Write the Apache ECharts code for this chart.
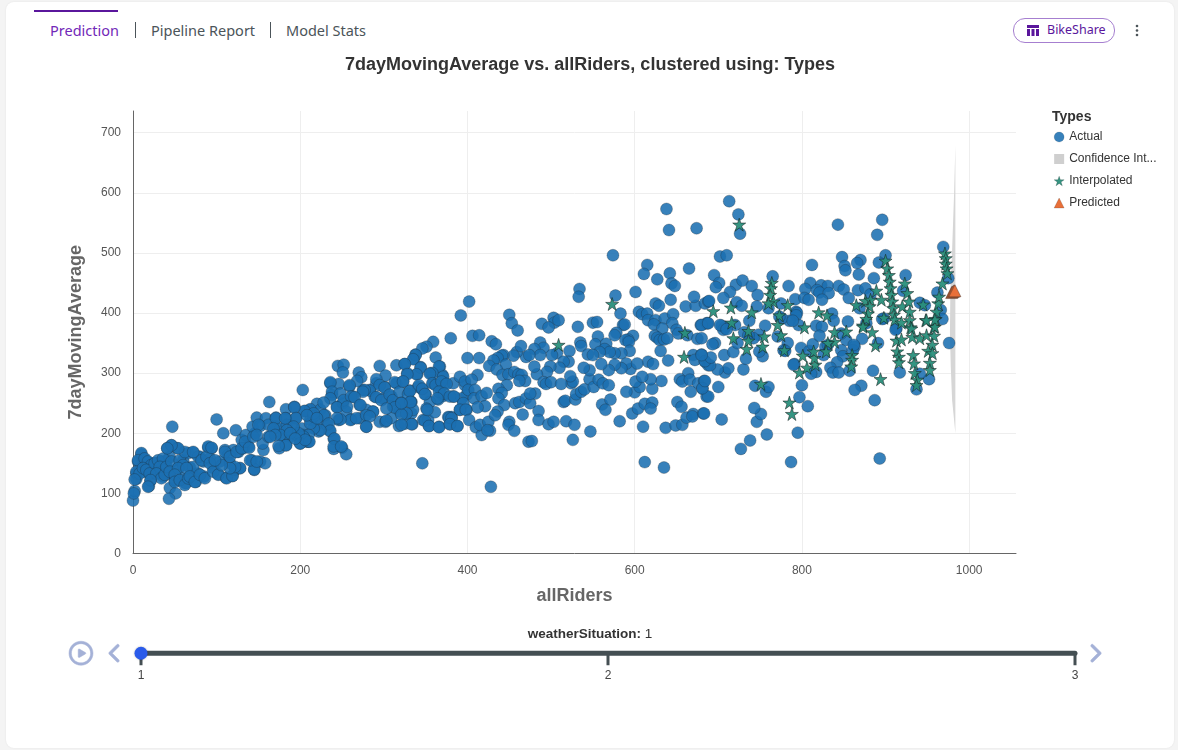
<!DOCTYPE html>
<html>
<head>
<meta charset="utf-8">
<script src="https://cdn.jsdelivr.net/npm/echarts@6/dist/echarts.min.js"></script>
<style>
  html, body { margin: 0; padding: 0; background: #f4f4f4; }
  body { width: 1178px; height: 750px; overflow: hidden; position: relative; font-family: "Noto Sans", sans-serif; }
  .card { position: absolute; left: 6px; top: 2px; width: 1168px; height: 746px; background: #fff; border-radius: 8px; box-shadow: 0 0 2px rgba(0,0,0,.08); }
  .tabline { position: absolute; left: 34px; top: 10px; width: 84px; height: 2px; background: #5a169c; }
  .tab { position: absolute; top: 20px; font-size: 14.5px; line-height: 21px; color: #4b5459; white-space: nowrap; }
  .tab.active { color: #7228b8; }
  .sep { position: absolute; top: 22px; width: 1px; height: 16px; background: #4b5459; }
  .pill { position: absolute; left: 1013px; top: 18px; width: 100px; height: 23px; border: 1px solid #a67fd0; border-radius: 12px; }
  .pill span { position: absolute; left: 33px; top: 2px; font-size: 12.5px; line-height: 18px; color: #5a169c; }
  .pill svg { position: absolute; left: 13px; top: 6px; }
  .kebab { position: absolute; left: 1135px; top: 24px; }
  #chart { position: absolute; left: 0; top: 0; width: 1178px; height: 750px; }
</style>
</head>
<body>
<div class="card"></div>
<div class="tabline"></div>
<div class="tab active" style="left:50px">Prediction</div>
<div class="sep" style="left:135px"></div>
<div class="tab" style="left:151px">Pipeline Report</div>
<div class="sep" style="left:270px"></div>
<div class="tab" style="left:286px">Model Stats</div>
<div class="pill">
  <svg width="12" height="11" viewBox="0 0 12 11"><path fill="#5a169c" d="M0 0h12v3H0zM0 4h3v7H0zM4.5 4h3v7h-3zM9 4h3v7H9z"/></svg>
  <span>BikeShare</span>
</div>
<svg class="kebab" width="4" height="13" viewBox="0 0 4 13"><g fill="#4b5459"><circle cx="2" cy="2" r="1.3"/><circle cx="2" cy="6.5" r="1.3"/><circle cx="2" cy="11" r="1.3"/></g></svg>
<div id="chart"></div>
<script>
// [allRiders, 7dayMovingAverage]
var actualLow = [[0,88],[2,104],[1,100],[4,124],[4,133],[8,138],[6,153],[10,165],[12,158],[16,153],[9,142],[13,136],[20,150],[18,142],[24,133],[21,121],[19,112],[28,150],[32,139],[36,128],[34,153],[40,155],[38,139],[44,133],[46,180],[41,175],[53,175],[47,211],[44,160],[44,109],[51,100],[43,91],[50,122],[54,142],[60,155],[58,125],[63,117],[66,167],[72,168],[68,143],[72,131],[75,119],[80,161],[85,128],[78,133],[84,153],[90,176],[94,175],[92,158],[96,142],[102,132],[111,126],[119,129],[122,139],[128,142],[100,223],[108,200],[123,205],[104,153],[110,172],[114,164],[120,172],[116,150],[126,169],[130,189],[135,197],[138,178],[132,175],[142,155],[152,153],[158,150],[145,139],[156,172],[155,183],[146,200],[143,211],[148,226],[159,225],[171,226],[163,252],[183,240],[193,244],[195,226],[183,225],[152,212],[162,214],[162,194],[170,211],[176,208],[184,214],[192,208],[180,194],[188,194],[196,197],[175,175],[183,180],
  [10,167],[6,155],[14,158],[18,153],[22,147],[4,136],[8,133],[12,142],[16,139],[20,133],[26,150],[30,155],[36,158],[32,144],[28,133],[34,125],[38,131],[40,144],[46,153],[44,136],[2,123],[21,122],[18,111],[56,155],[60,147],[54,142],[50,131],[50,119],[56,122],[62,114],[66,125],[72,144],[64,142],[68,128],[74,119],[80,131],[86,125],[78,161],[82,155],[88,161],[92,150],[96,136],[102,131],[112,125],[119,129],[128,142],[122,144],[116,142],[106,147],[98,155],[110,169],[116,161],[124,169],[130,175],[134,186],[139,176],[144,194],[150,214],[148,197],[145,140],[140,155],[148,153],[62,169],[72,169],[90,178],[94,176],[54,175],[46,180],[41,175]];
var actualMid = [[202,208],[204,197],[208,186],[210,186],[200,183],[203,272],[206,237],[212,239],[220,249],[224,239],[212,222],[220,216],[222,203],[230,230],[235,204],[232,214],[240,191],[240,174],[250,176],[255,165],[246,222],[244,244],[238,264],[236,283],[246,282],[259,278],[263,261],[251,250],[255,236],[261,223],[271,225],[279,211],[287,236],[279,239],[271,247],[275,272],[283,272],[291,283],[301,277],[289,261],[299,258],[309,261],[322,250],[311,244],[331,271],[341,277],[319,236],[327,233],[333,252],[333,233],[315,283],[323,286],[295,219],[302,219],[309,225],[318,212],[325,216],[334,215],
  [338,331],[336,324],[362,326],[367,311],[295,312],[315,313],[325,315],[245,312],[252,314],[251,301],[270,301],[273,293],[268,287],[302,296],[291,290],[236,285],[259,280],[313,285],[328,300],[340,298],[344,310],[356,300],[370,297],[295,280],[301,276],[283,271],[277,272],[275,269],[238,269],[248,266],[236,258],[252,255],[261,261],[265,260],[291,260],[297,255],[307,264],[311,255],[321,251],[332,253],[319,269],[329,265],[346,273],[350,265],[359,283],[367,275],[373,283],[383,283],[397,280],[399,264],[393,258],[383,261],[371,262],[365,256],[355,252],[244,243],[228,251],[212,240],[205,237],[193,243],[195,225],[171,225],[182,225],[228,230],[260,222],[267,225],[287,236],[279,230],[272,247],[256,244],[313,243],[303,241],[283,228],[279,211],[303,221],[347,222],[353,222],[354,212],[366,211],[381,227],[379,215],[388,212],[377,227],[399,239],[391,239],[248,223],[244,225],[234,216],[236,204],[241,191],[240,178],[249,178],[224,205],[216,208],[212,216],[210,197],[204,194],[198,200],[192,211],[184,205],[176,197],[183,180],[174,179],[188,200],[168,208],[200,183],[211,186],[206,189],[194,191],[170,197],[164,194],[216,228],[216,233],[208,230],[220,225],
  [402,419],[392,396],[380,358],[359,352],[351,344],[346,341],[338,330],[335,323],[406,362],[414,363],[400,325],[414,325],[366,311],[344,309],[325,315],[339,298],[328,298],[358,300],[355,299],[391,294],[412,297],[371,294],[323,286],[331,270],[342,280],[346,274],[349,265],[358,283],[362,280],[369,286],[375,282],[366,269],[372,266],[364,258],[379,261],[384,261],[397,286],[405,289],[401,272],[409,272],[408,258],[417,262],[423,267],[421,245],[412,243],[395,250],[391,239],[398,239],[361,235],[351,241],[335,239],[327,233],[321,231],[332,252],[321,250],[349,221],[354,212],[366,210],[333,215],[321,214],[378,226],[381,225],[379,215],[388,212],[402,222],[410,210],[417,197],[415,214],[425,219],[427,204],[424,205],[352,239],[346,150],[428,111]];
var actualUpper = [[638,573],[641,538],[674,541],[574,496],[615,480],[611,465],[642,466],[665,474],[627,456],[534,440],[533,427],[577,429],[601,435],[644,449],[648,445],[643,422],[625,416],[629,412],[661,411],[673,412],[671,427],[684,416],[688,419],[450,397],[453,383],[460,371],[489,382],[503,392],[504,384],[509,388],[497,376],[532,377],[550,384],[555,385],[583,399],[605,402],[609,398],[615,399],[616,388],[625,388],[623,381],[636,391],[646,398],[645,383],[633,374],[650,372],[652,366],[663,363],[679,380],[687,383],[586,380],[588,381],[578,367],[576,363],[556,361],[598,362],[592,356],[589,355],[593,352],[624,362],[627,359],[630,355],[635,356],[639,358],[675,357],[429,353],[434,348],[487,351],[491,342],[480,340],[535,351],[536,345],[553,348],[566,349],[564,340],[594,337],[584,333],[576,333],[570,335],[558,335],[544,331],[550,330],[522,337],[507,333],[501,330],[487,330],[470,327],[474,330],[459,335],[464,345],[455,329],[443,330],[441,329],[436,325],[431,321],[426,312],
  [446,314],[435,306],[442,297],[449,298],[456,302],[461,298],[465,297],[469,287],[462,287],[447,280],[437,274],[441,267],[437,258],[444,247],[436,236],[433,230],[457,250],[462,252],[470,258],[475,250],[481,266],[475,266],[485,237],[485,222],[466,231],[450,219],[449,214],[456,204],[473,186],[477,187],[497,215],[503,219],[518,220],[528,214],[526,189],[547,203],[515,252],[517,254],[529,256],[530,265],[536,269],[540,273],[546,290],[551,277],[557,289],[562,283],[569,280],[561,248],[571,256],[565,239],[582,220],[597,233],[604,241],[612,249],[621,251],[619,241],[610,211],[612,152],[635,143],[637,209],[649,213],[657,214],[662,226],[670,232],[669,228],[682,233],[651,252],[656,244],[632,287],[621,274],[619,290],[600,268],[590,269],[606,277],[601,286],[609,294],[595,307],[590,316],[584,308],[576,314],[569,305],[560,315],[546,305],[539,309],[524,283],[526,286],[523,295],[521,319],[515,319],[510,309],[499,311],[495,302],[483,298],[480,311],[491,285],[494,282],[500,285],[512,282],[616,319],[622,315],[603,316],[640,321],[631,337],[670,330],[680,331],[672,322],[684,319],[688,313],[664,300],[654,290],[657,286],[666,289],[676,283],[683,287],[681,274],[667,269],[686,261]];
var actualHigh = [[713,586],[724,564],[726,532],[702,494],[710,496],[695,463],[701,450],[697,443],[721,447],[729,454],[740,445],[747,430],[714,435],[706,425],[689,420],[722,418],[728,412],[746,411],[760,408],[765,461],[775,416],[792,423],[784,445],[812,480],[843,547],[896,555],[890,530],[848,493],[870,488],[866,483],[851,478],[852,471],[900,496],[892,484],[868,464],[886,458],[810,450],[804,440],[823,446],[831,445],[844,445],[818,438],[821,434],[832,433],[850,439],[867,438],[876,441],[882,431],[856,425],[803,425],[808,422],[824,422],[924,463],[921,437],[969,510],[975,458],[962,434],[941,417],[947,413],[966,405],[968,390],[793,402],[794,400],[793,396],[756,379],[737,387],[720,380],[704,379],[686,383],[680,380],[708,376],[836,399],[838,387],[855,386],[817,379],[824,377],[796,380],[785,387],[776,391],[869,408],[877,383],[898,391],[896,390],[913,374],
  [976,350],[917,301],[937,273],[952,290],[941,299],[912,372],[891,350],[872,357],[853,355],[863,344],[847,366],[847,338],[849,328],[861,338],[828,344],[826,330],[831,347],[842,318],[834,309],[837,301],[844,301],[857,304],[817,302],[811,299],[885,304],[800,280],[797,260],[807,245],[795,201],[787,152],[893,158],[887,255],[871,279],[863,272],[758,198],[738,188],[727,174],[746,219],[751,232],[743,242],[744,279],[757,269],[760,277],[704,223],[683,233],[700,277],[688,261],[681,275],[684,287],[730,306],[708,301],[712,308],[699,306],[690,313],[684,320],[691,326],[680,330],[707,330],[718,335],[733,324],[753,328],[749,336],[791,315],[790,314],[799,342],[809,337],[813,348],[783,350],[778,338],[780,337],[771,361],[748,364],[742,358],[731,368],[736,363],[723,350],[696,350],[693,348],[680,358],[706,372],[702,380],[710,373],[688,383],[821,362],[789,387],[862,347],[773,394]];
var interpolatedUpper = [[509,347],[573,415],[660,367],[659,327],[725,547],[764,450],[763,441],[762,430],[766,419],[760,416],[773,396],[783,413],[740,401],[715,409],[694,403],[716,384],[820,401],[830,396],[865,413],[889,437],[895,422],[876,420],[882,422],[881,411],[879,399],[877,390],[873,379],[900,487],[902,474],[904,463],[905,452],[906,441],[907,430],[908,419],[909,408],[910,397],[911,389],[920,411],[919,384],[923,449],[926,433],[928,419],[929,402],[929,388],[930,376],[945,414],[948,388],[958,377],[960,390],[961,402],[963,416],[964,427],[971,499],[972,491],[972,482],[973,474],[974,466],[968,449],[898,392]];
var interpolatedLower = [[894,290],[785,251],[788,232],[751,282],[797,301],[806,309],[816,314],[815,325],[814,336],[801,329],[779,338],[753,344],[755,361],[734,340],[736,354],[736,370],[718,358],[775,363],[771,380],[803,376],[839,368],[853,369],[839,352],[831,350],[829,336],[860,330],[860,322],[859,311],[884,368],[873,377],[888,346],[913,354],[919,356],[914,336],[916,327],[916,318],[931,374],[932,360],[941,358],[949,363],[958,362],[956,347],[951,337],[956,333],[953,317],[953,305],[933,330],[934,316],[935,300],[938,289],[937,280],[959,377],[959,389],[949,388]];
var predicted = [[979,434],[980,435],[981,436],[982,437],[983,437]];
var ciY = [679, 600, 505, 438, 367, 310, 255, 227, 200];
var ciLower = [983.5, 982, 979.6, 977.5, 977, 978, 979.6, 981.6, 983.5];
var ciUpper = [983.5, 983.5, 983.5, 983.5, 983.5, 983.5, 983.5, 983.5, 983.5];
var weatherSituations = ['1', '2', '3'];
var yTicks = 100;
var xTicks = 200;

var chartFont = '"Liberation Sans", Arial, sans-serif';
var starPath = 'path://M50 0L62 36H100L69 58L81 95L50 72L19 95L31 58L0 36H38Z';
var chart = echarts.init(document.getElementById('chart'), null, { renderer: 'canvas' });

var ciPolygon = ciLower.map(function (x, i) { return [x, ciY[i]]; })
  .concat(ciUpper.map(function (x, i) { return [x, ciY[i]]; }).reverse());

function renderCi(params, api) {
  if (params.dataIndex !== 0) return null;
  return {
    type: 'polygon',
    shape: { points: ciPolygon.map(function (p) { return api.coord(p); }) },
    style: { fill: '#d6d6d6' }
  };
}

var option = {
  baseOption: {
    animation: false,
    textStyle: { fontFamily: chartFont },
    timeline: {
      axisType: 'category',
      data: weatherSituations,
      autoPlay: false,
      currentIndex: 0,
      left: 54,
      right: 52,
      bottom: 44,
      height: 50,
      controlPosition: 'left',
      symbol: 'rect',
      symbolSize: [3, 12],
      symbolOffset: [0, 6],
      itemStyle: { color: '#444f53', borderWidth: 0 },
      lineStyle: { color: '#444f53', width: 5 },
      label: { color: '#444', fontFamily: chartFont, fontSize: 12, position: 16 },
      checkpointStyle: { color: '#2a5bea', symbol: 'circle', symbolSize: 13, borderWidth: 0, shadowBlur: 2, shadowColor: 'rgba(0,0,0,.3)', animation: false },
      controlStyle: { itemSize: 24, itemGap: 12, color: '#a4b1d7', borderColor: '#a4b1d7', borderWidth: 0.5 },
      progress: { lineStyle: { color: '#444f53' }, itemStyle: { color: '#444f53' } },
      emphasis: { disabled: true }
    },
    title: [
      { text: '7dayMovingAverage vs. allRiders, clustered using: Types', left: 585, textAlign: 'center', top: 51, textStyle: { fontFamily: chartFont, fontSize: 18, fontWeight: 'bold', color: '#333' } },
      { text: 'Types', left: 1047, top: 105, textStyle: { fontFamily: chartFont, fontSize: 14, fontWeight: 'bold', color: '#333' } },
      { left: 585, textAlign: 'center', top: 622, text: '{b|weatherSituation:} {n|1}', textStyle: { fontFamily: chartFont, fontSize: 13.5, fontWeight: 'normal', rich: { b: { fontFamily: chartFont, fontSize: 13.5, fontWeight: 'bold', color: '#333' }, n: { fontFamily: chartFont, fontSize: 13.5, fontWeight: 'normal', color: '#333' } } } }
    ],
    legend: {
      orient: 'vertical',
      left: 1049,
      top: 125,
      itemWidth: 10,
      itemHeight: 10,
      itemGap: 8,
      selectedMode: false,
      itemStyle: { borderWidth: 0.3 },
      textStyle: { fontFamily: chartFont, fontSize: 12, lineHeight: 14, color: '#333', width: 92, overflow: 'truncate', ellipsis: '...' },
      data: [
        { name: 'Actual', icon: 'circle' },
        { name: 'Confidence Interval', icon: 'rect' },
        { name: 'Interpolated', icon: starPath },
        { name: 'Predicted', icon: 'triangle' }
      ]
    },
    grid: { left: 133, right: 162, top: 111, bottom: 196.5 },
    xAxis: {
      type: 'value', min: 0, max: 1056, interval: xTicks,
      name: 'allRiders', nameLocation: 'middle', nameGap: 34,
      nameTextStyle: { fontFamily: chartFont, fontSize: 18, fontWeight: 'bold', color: '#666' },
      axisLine: { show: true, lineStyle: { color: '#666' } },
      axisTick: { show: false },
      axisLabel: { fontFamily: chartFont, color: '#555', fontSize: 12, showMaxLabel: false, margin: 11, formatter: String },
      splitLine: { show: true, showMaxLine: false, lineStyle: { color: '#eee' } }
    },
    yAxis: {
      type: 'value', min: 0, max: 736, interval: yTicks,
      name: '7dayMovingAverage', nameLocation: 'middle', nameGap: 48,
      nameTextStyle: { fontFamily: chartFont, fontSize: 18, fontWeight: 'bold', color: '#666' },
      axisLine: { show: true, lineStyle: { color: '#666' } },
      axisTick: { show: false },
      axisLabel: { fontFamily: chartFont, color: '#555', fontSize: 12, showMaxLabel: false, margin: 12, formatter: String },
      splitLine: { show: true, showMaxLine: false, lineStyle: { color: '#eee' } }
    },
    series: [
      {
        name: 'Actual', type: 'scatter', symbol: 'circle', symbolSize: 12,
        itemStyle: { color: '#1b6fb2', opacity: 0.88, borderColor: 'rgba(30,30,30,.5)', borderWidth: 0.6 },
        data: actualLow.concat(actualMid, actualUpper, actualHigh)
      },
      {
        name: 'Confidence Interval', type: 'custom', renderItem: renderCi,
        itemStyle: { color: '#cfcfcf' },
        encode: { x: 0, y: 1 },
        data: ciPolygon
      },
      {
        name: 'Interpolated', type: 'scatter', symbol: starPath, symbolSize: 13,
        itemStyle: { color: '#2a8f7b', opacity: 0.95, borderColor: 'rgba(20,30,30,.8)', borderWidth: 0.7 },
        data: interpolatedUpper.concat(interpolatedLower)
      },
      {
        name: 'Predicted', type: 'scatter', symbol: 'triangle', symbolSize: 12,
        itemStyle: { color: '#e8703a', opacity: 1, borderColor: 'rgba(40,40,40,.6)', borderWidth: 0.6 },
        data: predicted
      }
    ]
  },
  options: weatherSituations.map(function (s) {
    return { title: [{}, {}, { text: '{b|weatherSituation:} {n|' + s + '}' }] };
  })
};

chart.setOption(option);
</script>
</body>
</html>
